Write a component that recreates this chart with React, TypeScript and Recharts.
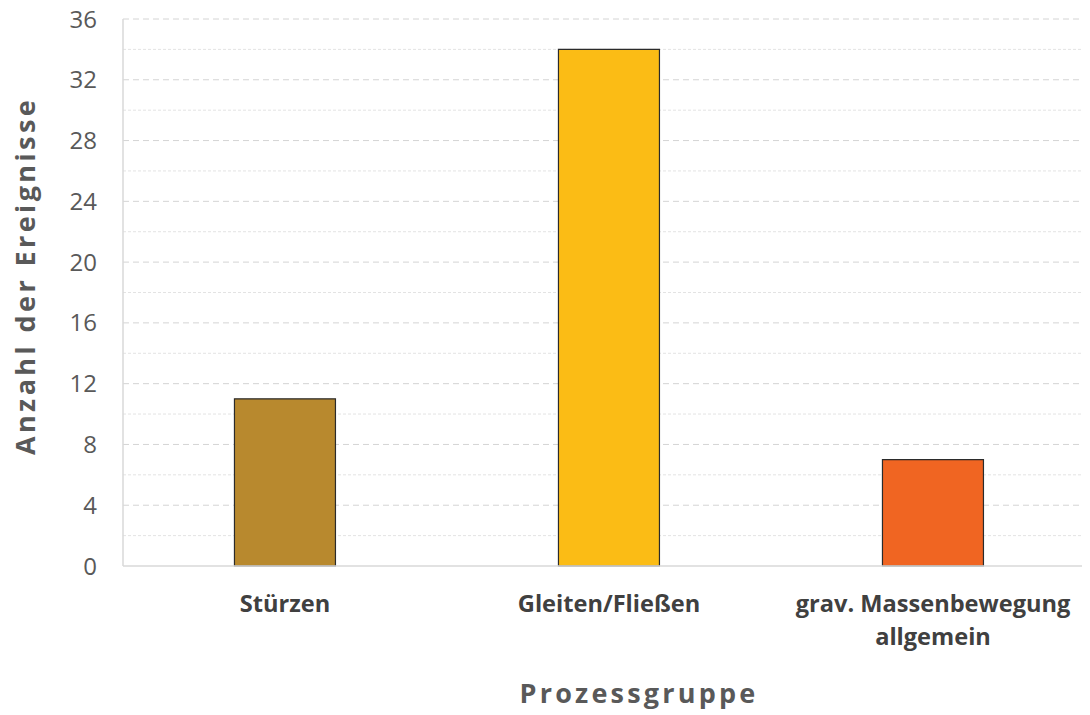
import React from 'react';
import { BarChart, Bar, XAxis, YAxis, CartesianGrid, Cell, Label } from 'recharts';

const categories = ['Stürzen', 'Gleiten/Fließen', 'grav. Massenbewegung\nallgemein'];
const counts = [11, 34, 7];
const barColors = ['#B8892E', '#FBBC15', '#F06522'];
const majorTicks = [0, 4, 8, 12, 16, 20, 24, 28, 32, 36];
const minorTicks = [2, 6, 10, 14, 18, 22, 26, 30, 34];

const data = categories.map((c, i) => ({ name: c, value: counts[i] }));

const FONT = '"Open Sans", "Noto Sans", sans-serif';

const CategoryTick = (props: any) => {
  const { x, y, payload } = props;
  const lines = String(payload.value).split('\n');
  return (
    <g>
      {lines.map((l: string, i: number) => (
        <text key={i} x={x} y={y + 38 + i * 33} textAnchor="middle" fill="#404040"
          fontFamily={FONT} fontWeight={700} fontSize={23.6}>{l}</text>
      ))}
    </g>
  );
};

export default function App() {
  return (
    <div style={{ marginLeft: -8, marginTop: -8, width: 1090, height: 715, background: '#fff', overflow: 'hidden' }}>
      <BarChart width={1090} height={715} data={data}
        margin={{ top: 19, right: -5, left: 63, bottom: 0 }} barCategoryGap="34.4%">
        <CartesianGrid vertical={false} horizontalValues={minorTicks} stroke="#e3e3e3" strokeDasharray="3 2" />
        <CartesianGrid vertical={false} horizontalValues={majorTicks.slice(1)} stroke="#d4d4d4" strokeDasharray="6 4" />
        <XAxis dataKey="name" height={149} tickLine={false} axisLine={{ stroke: '#d9d9d9', strokeWidth: 1.5 }}
          tick={<CategoryTick />} interval={0}>
          <Label content={() => (
            <text x={639} y={703} textAnchor="middle" fill="#595959" fontFamily={FONT}
              fontWeight={700} fontSize={27} letterSpacing={3.2}>Prozessgruppe</text>
          )} />
        </XAxis>
        <YAxis domain={[0, 36]} ticks={majorTicks} width={60} tickLine={false}
          axisLine={{ stroke: '#d9d9d9', strokeWidth: 1.5 }}
          tick={{ fill: '#595959', fontSize: 24, fontFamily: FONT }} tickMargin={20}>
          <Label content={() => (
            <text x={0} y={0} transform="translate(35,276) rotate(-90)" textAnchor="middle" fill="#595959"
              fontFamily={FONT} fontWeight={700} fontSize={27} letterSpacing={3.4}>Anzahl der Ereignisse</text>
          )} />
        </YAxis>
        <Bar dataKey="value" isAnimationActive={false} stroke="#2b2b2b" strokeWidth={1.2}>
          {data.map((d, i) => <Cell key={i} fill={barColors[i]} />)}
        </Bar>
      </BarChart>
    </div>
  );
}
